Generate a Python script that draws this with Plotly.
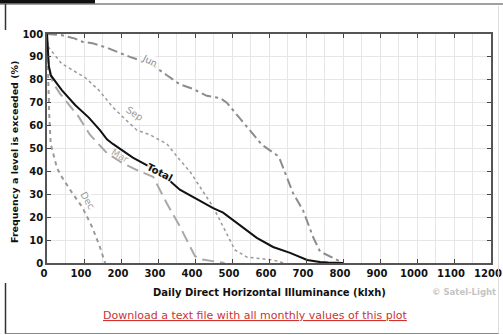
import plotly.graph_objects as go

# ---- data ----
total_x = [0, 2, 5, 10, 19, 40, 76, 113, 143, 162, 178, 232, 278, 324, 359, 386, 405, 449, 476, 522, 567, 611, 657, 703, 738, 760, 800]
total_y = [100, 93, 86, 82, 80, 75.5, 69, 63.5, 58, 54, 52, 46, 42, 37, 32, 29.5, 28, 24, 22, 16.6, 11, 7, 4.4, 1.3, 0.4, 0.2, 0]

jun_x = [0, 20, 40, 76, 97, 122, 162, 224, 280, 324, 359, 395, 432, 468, 486, 522, 557, 581, 622, 630, 665, 692, 720, 738, 770, 800]
jun_y = [100, 99.6, 99.5, 98, 96.5, 96, 94, 90, 87, 82, 78, 76, 73, 72, 70, 63, 56, 51.6, 47, 45, 30.5, 23, 11, 5, 2.5, 0]

sep_x = [0, 5, 40, 76, 103, 140, 178, 210, 243, 278, 324, 359, 386, 449, 486, 508, 540, 584, 611, 640]
sep_y = [97, 94, 87, 83.5, 81, 75.5, 68, 63, 58, 56, 52, 45, 40, 24.5, 13, 5.7, 2.6, 1.7, 1.3, 0]

mar_x = [0, 3, 15, 35, 70, 85, 116, 162, 200, 243, 287, 305, 324, 359, 378, 400, 420, 460, 480]
mar_y = [100, 88, 79, 74, 67, 64, 56, 48, 44, 40.6, 37.6, 32, 26, 16, 10, 3, 1.5, 0.5, 0]

dec_x = [0, 3, 6, 10, 19, 27, 40, 68, 95, 122, 143, 157]
dec_y = [100, 80, 65, 52, 47, 41.5, 37.6, 30.6, 24.5, 15.7, 7, 0]

x_ticks = list(range(0, 1201, 100))
y_ticks = list(range(0, 101, 10))

labels = [
    ("Jun", 278, 88.6, 27, "#8c8c8c", False),
    ("Sep", 238, 65.5, 33, "#999999", False),
    ("Mar", 197, 47, 30, "#aaaaaa", False),
    ("Total", 305, 39.5, 27, "#111111", True),
    ("Dec", 111, 27.5, 60, "#999999", False),
]

# ---- figure ----
fig = go.Figure()
fig.add_trace(go.Scatter(x=dec_x, y=dec_y, mode="lines",
                         line=dict(color="#9a9a9a", width=2, dash="4px,4px")))
fig.add_trace(go.Scatter(x=mar_x, y=mar_y, mode="lines",
                         line=dict(color="#a8a8a8", width=2, dash="12px,6px")))
fig.add_trace(go.Scatter(x=sep_x, y=sep_y, mode="lines",
                         line=dict(color="#9a9a9a", width=1.5, dash="dot")))
fig.add_trace(go.Scatter(x=jun_x, y=jun_y, mode="lines",
                         line=dict(color="#8c8c8c", width=2, dash="10px,4px,3px,4px")))
fig.add_trace(go.Scatter(x=total_x, y=total_y, mode="lines",
                         line=dict(color="#111111", width=2)))

for txt, lx, ly, ang, col, bold in labels:
    fig.add_annotation(x=lx, y=ly, xref="x", yref="y", text=txt, showarrow=False,
                       textangle=ang,
                       font=dict(family="DejaVu Sans", size=10 if bold else 9.5,
                                 color=col, weight="bold" if bold else "normal"),
                       bgcolor="rgba(255,255,255,0.85)" if txt != "Mar" else "rgba(0,0,0,0)",
                       borderpad=0)

W, H = 503, 335
L, R, T, B = 47, 12, 34, 72
pw, ph = W - L - R, H - T - B


def px(v):
    return (v - L) / pw


def py(v):
    return (H - B - v) / ph


tickfont = dict(family="DejaVu Sans", size=10, color="#111111", weight="bold")
fig.update_xaxes(range=[0, 1200], tickvals=x_ticks, ticks="inside", ticklen=4,
                 tickcolor="#444444", showline=True, linecolor="#555555", linewidth=1.5,
                 mirror="ticks", showgrid=True, gridcolor="#e6e6e6", gridwidth=1,
                 minor=dict(dtick=50, showgrid=True, gridcolor="#e6e6e6", gridwidth=1),
                 zeroline=False, tickfont=tickfont, fixedrange=True, automargin=False,
                 ticklabeloverflow="allow", ticklabelshift=-3)
fig.update_yaxes(range=[0, 100], tickvals=y_ticks, ticks="inside", ticklen=4,
                 tickcolor="#444444", showline=True, linecolor="#555555", linewidth=1.5,
                 mirror="ticks", showgrid=True, gridcolor="#e6e6e6", gridwidth=1,
                 zeroline=False, tickfont=tickfont, fixedrange=True, automargin=False,
                 ticklabeloverflow="allow")

title_font = dict(family="DejaVu Sans", size=10, color="#111111", weight="bold")
fig.add_annotation(x=px(269), y=py(292), xref="paper", yref="paper",
                   text="Daily Direct Horizontal Illuminance (klxh)", showarrow=False,
                   font=title_font, xanchor="center", yanchor="middle")
fig.add_annotation(x=px(14), y=py(152), xref="paper", yref="paper",
                   text="Frequency a level is exceeded (%)", showarrow=False,
                   textangle=-90, font=dict(family="DejaVu Sans", size=9.5, color="#111111", weight="bold"),
                   xanchor="center", yanchor="middle")
fig.add_annotation(x=px(430), y=py(292), xref="paper", yref="paper",
                   text="© Satel-Light", showarrow=False, xanchor="left", yanchor="middle",
                   font=dict(family="DejaVu Sans", size=8.5, color="#c4c4c4", weight="bold"))
fig.add_annotation(x=px(255.5), y=py(315), xref="paper", yref="paper",
                   text="<u>Download a text file with all monthly values of this plot</u>",
                   showarrow=False, xanchor="center", yanchor="middle",
                   font=dict(family="DejaVu Sans", size=11, color="#cc3333"))

# page frame
fig.add_shape(type="rect", xref="paper", yref="paper", x0=px(0), x1=px(95), y0=py(3.5), y1=py(0),
              fillcolor="#111111", line=dict(width=0), layer="above")
fig.add_shape(type="line", xref="paper", yref="paper", x0=px(0), x1=px(503), y0=py(4), y1=py(4),
              line=dict(color="#444444", width=1.2))
fig.add_shape(type="line", xref="paper", yref="paper", x0=px(5.5), x1=px(5.5), y0=py(4), y1=py(30),
              line=dict(color="#333333", width=1.5))
fig.add_shape(type="line", xref="paper", yref="paper", x0=px(5.5), x1=px(5.5), y0=py(283), y1=py(334),
              line=dict(color="#333333", width=1.5))
fig.add_shape(type="line", xref="paper", yref="paper", x0=px(5.5), x1=px(499), y0=py(333.5), y1=py(333.5),
              line=dict(color="#888888", width=1))
fig.add_shape(type="line", xref="paper", yref="paper", x0=px(498.5), x1=px(498.5), y0=py(6), y1=py(333.5),
              line=dict(color="#dddddd", width=1))

fig.update_layout(width=W, height=H, margin=dict(l=L, r=R, t=T, b=B),
                  paper_bgcolor="white", plot_bgcolor="white", showlegend=False)

fig.write_html("out.html", config={"displayModeBar": False},
               post_script="document.body.style.margin='0px';document.body.style.overflow='hidden';")
